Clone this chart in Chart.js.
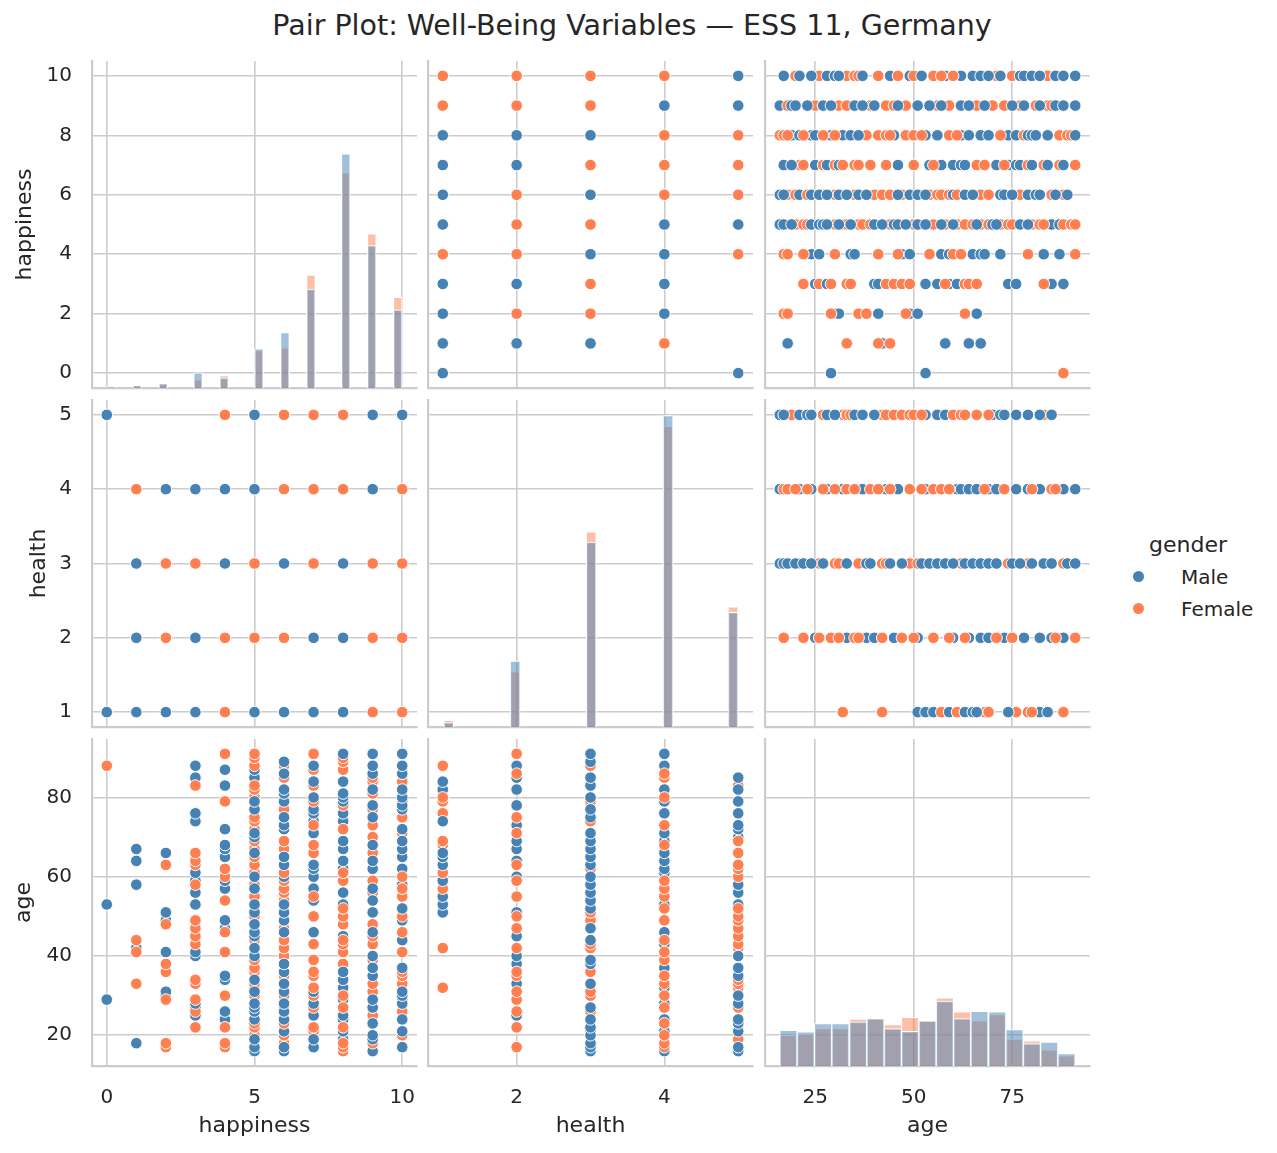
<!DOCTYPE html>
<html>
<head>
<meta charset="utf-8">
<script src="https://cdn.jsdelivr.net/npm/chart.js@4.4.0/dist/chart.umd.min.js"></script>
<style>
  body { margin: 0; background: #fff; width: 1277px; height: 1153px; position: relative; overflow: hidden;
         font-family: "DejaVu Sans", sans-serif; color: #262626; }
  canvas { position: absolute; }
  .txt { position: absolute; line-height: 1; white-space: nowrap; }
  .dot { position: absolute; width: 11px; height: 11px; border-radius: 50%; }
</style>
</head>
<body>
<div class="txt" style="left:0; width:1264px; text-align:center; top:12px; font-size:28.5px;">Pair Plot: Well-Being Variables — ESS 11, Germany</div>

<div class="txt" style="left:1149px; top:534px; font-size:22px;">gender</div>
<div class="dot" style="left:1133px; top:571px; background:#4682b4;"></div>
<div class="txt" style="left:1181px; top:567px; font-size:20px;">Male</div>
<div class="dot" style="left:1133px; top:603px; background:#ff7f50;"></div>
<div class="txt" style="left:1181px; top:599px; font-size:20px;">Female</div>

<script>
// categories
var happinessLevels = [0, 1, 2, 3, 4, 5, 6, 7, 8, 9, 10];
var healthLevels = [1, 2, 3, 4, 5];

// tick labels
var happinessTicksX = [0, 5, 10];
var happinessTicksY = [0, 2, 4, 6, 8, 10];
var healthTicksX = [2, 4];
var healthTicksY = [1, 2, 3, 4, 5];
var ageTicksX = [25, 50, 75];
var ageTicksY = [20, 40, 60, 80];

// diagonal histograms (bin centre, count)
var happinessBins = [0.15, 1.03, 1.91, 3.09, 3.97, 5.15, 6.03, 6.91, 8.09, 8.97, 9.85];
var happinessMale = [2, 5, 8, 27, 18, 70, 99, 177, 419, 255, 140];
var happinessFemale = [1, 3, 8, 14, 22, 67, 72, 202, 385, 276, 162];

var healthBins = [1.08, 1.98, 3.01, 4.05, 4.93];
var healthMale = [8, 118, 331, 557, 205];
var healthFemale = [12, 99, 349, 538, 215];

var ageBins = [18.2, 22.6, 27.0, 31.4, 35.9, 40.3, 44.7, 49.1, 53.5, 57.9, 62.3, 66.7, 71.2, 75.6, 80.0, 84.4, 88.8];
var ageMale = [64, 61, 76, 76, 79, 85, 67, 62, 81, 116, 85, 98, 97, 65, 40, 43, 22];
var ageFemale = [55, 57, 67, 67, 84, 84, 74, 87, 81, 122, 97, 81, 92, 48, 45, 29, 18];

// happiness x health cells [happiness, health]
var hapHealthMale = [[0, 5], [5, 5], [9, 5], [10, 5],
  [2, 4], [3, 4], [4, 4], [5, 4], [9, 4],
  [1, 3], [4, 3], [6, 3], [8, 3],
  [1, 2], [3, 2], [7, 2], [8, 2],
  [0, 1], [1, 1], [2, 1], [3, 1], [5, 1], [6, 1], [7, 1], [8, 1]];
var hapHealthFemale = [[4, 5], [6, 5], [7, 5], [8, 5],
  [1, 4], [6, 4], [7, 4], [8, 4], [10, 4],
  [2, 3], [3, 3], [5, 3], [7, 3], [9, 3], [10, 3],
  [2, 2], [4, 2], [5, 2], [6, 2], [9, 2], [10, 2],
  [4, 1], [9, 1], [10, 1]];

// ages by happiness level (0..10)
var hapAgeMale = [
  [29, 53],
  [18, 42, 58, 64, 67],
  [30, 31, 41, 49, 51, 66],
  [25, 27, 28, 40, 41, 53, 56, 59, 61, 74, 76, 85, 88],
  [24, 26, 34, 35, 47, 49, 57, 59, 65, 67, 68, 72, 83, 87],
  [16, 17, 19, 24, 26, 27, 28, 31, 34, 40, 42, 45, 46, 48, 51, 53, 57, 60, 66, 70, 71, 77, 79, 85, 87],
  [16, 17, 21, 24, 26, 28, 31, 33, 36, 38, 46, 49, 51, 53, 60, 63, 65, 72, 73, 75, 79, 81, 82, 86, 89],
  [17, 19, 25, 28, 31, 46, 54, 57, 60, 62, 63, 71, 74, 76, 77, 80, 84, 88],
  [19, 21, 24, 25, 29, 32, 34, 36, 45, 53, 56, 62, 64, 67, 69, 74, 76, 79, 80, 81, 84, 91],
  [16, 19, 20, 23, 27, 29, 35, 37, 40, 46, 51, 54, 57, 62, 64, 68, 75, 78, 82, 86, 88, 91],
  [17, 21, 24, 28, 30, 31, 37, 44, 49, 52, 58, 62, 65, 67, 69, 72, 77, 78, 80, 82, 86, 88, 91]
];
var hapAgeFemale = [
  [88],
  [33, 41, 44],
  [17, 18, 29, 36, 38, 48, 63],
  [22, 26, 29, 33, 34, 43, 45, 47, 49, 58, 63, 64, 66, 83],
  [17, 18, 22, 30, 41, 46, 54, 60, 62, 79, 91],
  [20, 22, 23, 30, 32, 33, 36, 37, 39, 44, 50, 55, 58, 61, 63, 65, 67, 69, 72, 74, 75, 80, 82, 83, 88, 90, 91],
  [18, 20, 23, 27, 30, 35, 40, 42, 44, 47, 54, 56, 57, 59, 61, 67, 69, 77, 85, 88],
  [21, 22, 27, 30, 32, 35, 36, 39, 43, 50, 55, 66, 68, 73, 79, 83, 87, 91],
  [16, 17, 18, 22, 27, 30, 38, 41, 43, 44, 48, 50, 52, 59, 61, 72, 78, 87, 89, 90],
  [18, 25, 27, 31, 33, 39, 43, 45, 48, 56, 59, 66, 70, 73, 77, 81, 84, 85],
  [20, 26, 29, 33, 35, 36, 41, 46, 50, 55, 57, 60, 71, 75, 79, 84, 86]
];

// ages by health level (1..5)
var healthAgeMale = [
  [51, 53, 55, 59, 63, 65, 66, 74, 82, 84],
  [25, 29, 33, 38, 40, 45, 51, 60, 64, 67, 69, 73, 78, 82, 85, 88],
  [16, 17, 18, 20, 22, 24, 27, 33, 38, 39, 44, 47, 52, 54, 56, 58, 60, 63, 65, 67, 69, 71, 75, 77, 80, 83, 85, 89, 91],
  [16, 21, 24, 28, 32, 37, 43, 46, 53, 61, 62, 64, 66, 69, 71, 76, 79, 82, 86, 88, 91],
  [16, 17, 21, 23, 24, 28, 30, 35, 37, 40, 53, 56, 58, 70, 72, 73, 76, 79, 82, 85]
];
var healthAgeFemale = [
  [32, 42, 57, 61, 68, 69, 76, 79, 80, 88],
  [17, 22, 26, 29, 31, 35, 36, 42, 47, 50, 55, 59, 63, 71, 75, 86, 91],
  [18, 21, 26, 30, 31, 36, 42, 43, 49, 51, 62, 74, 79, 88],
  [17, 18, 20, 23, 27, 30, 33, 35, 39, 41, 44, 49, 52, 55, 57, 59, 68, 73, 80, 85, 86],
  [19, 27, 32, 33, 34, 42, 43, 45, 47, 49, 50, 52, 60, 62, 63, 66, 69, 83]
];

var maleColor = '#4682b4', femaleColor = '#ff7f50';
var maleFill = 'rgba(70,130,180,0.5)', femaleFill = 'rgba(255,127,80,0.5)';
var gridColor = '#cccccc', textColor = '#262626', fontFamily = '"DejaVu Sans", sans-serif';

var vars = ['happiness', 'health', 'age'];
var ranges = { happiness: [-0.5, 10.5], health: [0.8, 5.2], age: [12.25, 94.75] };
var xTicks = { happiness: happinessTicksX, health: healthTicksX, age: ageTicksX };
var yTicks = { happiness: happinessTicksY, health: healthTicksY, age: ageTicksY };
var yTitleGap = { happiness: 12, health: 26, age: 11 };
var colX = [92, 428, 765], rowY = [61, 400, 739], panelW = 325, panelH = 327;

function axis(name, isX, show, size) {
  var rg = ranges[name];
  var tk = isX ? xTicks[name] : yTicks[name];
  return {
    type: 'linear', min: rg[0], max: rg[1], offset: false,
    afterBuildTicks: function (s) { s.ticks = tk.map(function (v) { return { value: v }; }); },
    afterFit: function (s) {
      if (isX) s.height = size; else s.width = size;
      s.paddingLeft = s.paddingRight = s.paddingTop = s.paddingBottom = 0;
    },
    ticks: { display: show, color: textColor, font: { family: fontFamily, size: 20 },
             padding: isX ? 20 : 20, maxRotation: 0, autoSkip: false },
    grid: { color: gridColor, lineWidth: 1.6, drawTicks: false, offset: false },
    border: { color: gridColor, width: 2.2 },
    title: { display: show, text: name, color: textColor, font: { family: fontFamily, size: 22 },
             padding: isX ? { top: 0, bottom: 14 } : { top: yTitleGap[name], bottom: 0 } }
  };
}

function panel(r, c, type, datasets) {
  var L = c === 0 ? 92 : 4, B = r === 2 ? 87 : 4, T = 4, R = 4;
  var cv = document.createElement('canvas');
  cv.width = panelW + L + R;
  cv.height = panelH + T + B;
  cv.style.left = (colX[c] - L) + 'px';
  cv.style.top = (rowY[r] - T) + 'px';
  document.body.appendChild(cv);
  var scales = { x: axis(vars[c], true, r === 2, B), y: axis(vars[r], false, c === 0, L) };
  if (type === 'bar') {
    scales.yc = { type: 'linear', display: false, min: 0, max: 585 };
  }
  new Chart(cv.getContext('2d'), {
    type: type,
    data: { datasets: datasets },
    options: {
      responsive: false, animation: false, events: [],
      layout: { padding: { top: T, right: R, left: 0, bottom: 0 }, autoPadding: false },
      plugins: { legend: { display: false }, tooltip: { enabled: false } },
      scales: scales
    }
  });
}

// Chart.js paints the first dataset last, so Male (first) lies over Female
function histSets(bins, male, female, width) {
  function mk(vals, fill) {
    return {
      data: bins.map(function (b, i) { return { x: b, y: vals[i] }; }),
      yAxisID: 'yc', backgroundColor: fill, borderColor: '#ffffff', borderWidth: 1,
      barThickness: width, grouped: false
    };
  }
  return [mk(male, maleFill), mk(female, femaleFill)];
}

function pointSet(pts, cols) {
  return { data: pts, pointRadius: 5.8, pointBorderWidth: 1, pointBorderColor: '#ffffff',
           pointBackgroundColor: cols, showLine: false };
}

function cellSets(levelFirstOnX) {
  function mk(list, col) {
    var pts = list.map(function (p) { return levelFirstOnX ? { x: p[0], y: p[1] } : { x: p[1], y: p[0] }; });
    return pointSet(pts, list.map(function () { return col; }));
  }
  return [mk(hapHealthMale, maleColor), mk(hapHealthFemale, femaleColor)];
}

function levelSet(levels, male, female, levelOnX) {
  var pts = [], cols = [];
  levels.forEach(function (lv, i) {
    var m = male[i], f = female[i], n = Math.max(m.length, f.length);
    for (var k = 0; k < n; k++) {
      if (k < m.length) { pts.push(levelOnX ? { x: lv, y: m[k] } : { x: m[k], y: lv }); cols.push(maleColor); }
      if (k < f.length) { pts.push(levelOnX ? { x: lv, y: f[k] } : { x: f[k], y: lv }); cols.push(femaleColor); }
    }
  });
  return [pointSet(pts, cols)];
}

panel(0, 0, 'bar', histSets(happinessBins, happinessMale, happinessFemale, 8.7));
panel(0, 1, 'scatter', cellSets(false));
panel(0, 2, 'scatter', levelSet(happinessLevels, hapAgeMale, hapAgeFemale, false));
panel(1, 0, 'scatter', cellSets(true));
panel(1, 1, 'bar', histSets(healthBins, healthMale, healthFemale, 10));
panel(1, 2, 'scatter', levelSet(healthLevels, healthAgeMale, healthAgeFemale, false));
panel(2, 0, 'scatter', levelSet(happinessLevels, hapAgeMale, hapAgeFemale, true));
panel(2, 1, 'scatter', levelSet(healthLevels, healthAgeMale, healthAgeFemale, true));
panel(2, 2, 'bar', histSets(ageBins, ageMale, ageFemale, 17.4));
</script>
</body>
</html>
